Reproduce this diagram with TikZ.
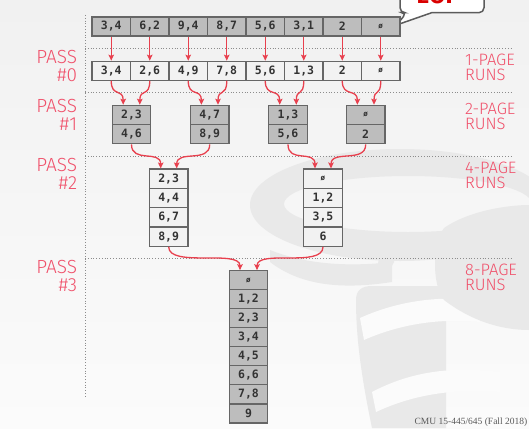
\documentclass[tikz,border=0pt]{standalone}
\usepackage{fontspec}
\setmainfont{Liberation Serif}
\newfontfamily\cellfont{DejaVu Sans Mono}
\newfontfamily\lblfont{Fira Sans Light}
\newfontfamily\eoffont{Fira Sans}
\usetikzlibrary{arrows.meta,calc}
\definecolor{bgtop}{HTML}{F1F1F1}
\definecolor{bgbot}{HTML}{FBFBFB}
\definecolor{wm}{HTML}{E9E9E9}
\definecolor{cellgray}{HTML}{BDBDBD}
\definecolor{celllight}{HTML}{F2F2F2}
\definecolor{cellline}{HTML}{666666}
\definecolor{celltext}{HTML}{333333}
\definecolor{arrowred}{HTML}{E8404E}
\definecolor{lblred}{HTML}{F0506A}
\definecolor{dotc}{HTML}{8C8C8C}
\newcommand\emptyval{{\fontsize{7.5}{8}\selectfont ø}}
\newcommand\mcurve[3]{\draw[arr] (#1) .. controls ($(#1)+(0,#3)$) and ($(#2)+(0,-#3)$) .. (#2);}
\begin{document}
\begin{tikzpicture}[x=1pt,y=-1pt,
  cell/.style={draw=cellline,line width=1.1pt,minimum width=38.5pt,minimum height=19pt,inner sep=0pt,text=celltext,font=\cellfont\bfseries\fontsize{11.5}{12}\selectfont},
  graycell/.style={cell,fill=cellgray},
  lightcell/.style={cell,fill=celllight},
  arr/.style={draw=arrowred,line width=1.3pt,-{Stealth[length=6pt,width=5.5pt,inset=1.2pt]}},
  sep/.style={draw=dotc,line width=0.8pt,dotted},
  passlbl/.style={anchor=north east,align=right,inner sep=0pt,text=lblred,font=\lblfont\fontsize{19}{17.6}\selectfont},
  runlbl/.style={anchor=north west,align=left,inner sep=0pt,text=lblred,font=\lblfont\fontsize{16.5}{15.3}\selectfont}]
\useasboundingbox (0,0) rectangle (529,428);
\clip (0,0) rectangle (529,428);
% background
\shade[top color=bgtop,bottom color=bgbot] (0,0) rectangle (529,428);
% watermark (database logo)
\fill[wm,even odd rule] (400,205) ellipse [x radius=150,y radius=56] (408,204) ellipse [x radius=124,y radius=28];
\fill[wm] (270,262) .. controls (300,285) and (340,290) .. (392,282) -- (392,262) .. controls (340,268) and (300,262) .. (270,250) -- cycle;
\fill[wm] (356,300) .. controls (356,290) and (362,286) .. (372,286) -- (446,286) -- (446,428) -- (372,428) .. controls (362,380) and (356,340) .. (356,300) -- cycle;
\fill[bgbot] (360,318) .. controls (400,300) and (440,296) .. (480,300) -- (480,322) .. controls (440,318) and (400,324) .. (364,340) -- cycle;
\fill[bgbot] (372,392) .. controls (410,372) and (450,366) .. (500,372) -- (500,392) .. controls (450,388) and (410,396) .. (376,412) -- cycle;
\fill[wm] (444,228) .. controls (470,210) and (510,205) .. (529,205) -- (529,330) .. controls (500,330) and (470,320) .. (444,300) .. controls (432,285) and (432,245) .. (444,228) -- cycle;
\fill[wm] (380,236) .. controls (392,238) and (396,250) .. (394,262) .. controls (390,272) and (382,272) .. (378,266) -- cycle;
% separators
\draw[sep] (85,15) -- (85,398);
\foreach \yy in {48,92,156,258} \draw[sep] (85,\yy) -- (513,\yy);
% callout
\draw[cellline!90!black,line width=1.5pt,fill=white,rounded corners=5pt]
  (400,-20) -- (400,12.7) -- (406.7,12.7) [sharp corners] -- (396.5,25) -- (431.7,12.7) [rounded corners=5pt] -- (484,12.7) -- (484,-20) -- cycle;
\node[anchor=base,inner sep=0pt,text=red!85!black,font=\eoffont\bfseries\fontsize{24}{24}\selectfont] (eof) at (437,3.5) {EOF};
% top row
\foreach \v [count=\i] in {{3,4},{6,2},{9,4},{8,7},{5,6},{3,1},{2},{\emptyval}}
  \node[graycell] (t\i) at ({92+38.5*(\i-0.5)},26.5) {\v};
% pass 0
\foreach \v [count=\i] in {{3,4},{2,6},{4,9},{7,8},{5,6},{1,3},{2},{\emptyval}}
  \node[lightcell] (p\i) at ({92+38.5*(\i-0.5)},70.7) {\v};
\foreach \i in {1,...,8} \draw[arr] (t\i.south) -- (p\i.north);
% pass 1
\foreach \xx/\va/\vb [count=\j] in {131.5/{2,3}/{4,6},209.7/{4,7}/{8,9},288/{1,3}/{5,6},365.7/{\emptyval}/{2}}{
  \node[graycell,minimum height=19.3pt] (q\j a) at (\xx,114.95) {\va};
  \node[graycell,minimum height=19.3pt] (q\j b) at (\xx,134.25) {\vb};
  \coordinate (q\j l) at ($(q\j a.north)+(-8.3,0)$);
  \coordinate (q\j r) at ($(q\j a.north)+(8.3,0)$);
}
\mcurve{p1.south}{q1l}{17}
\mcurve{p2.south}{q1r}{17}
\mcurve{p3.south}{q2l}{17}
\mcurve{p4.south}{q2r}{17}
\mcurve{p5.south}{q3l}{17}
\mcurve{p6.south}{q3r}{17}
\mcurve{p7.south}{q4l}{17}
\mcurve{p8.south}{q4r}{17}
% pass 2
\foreach \v [count=\k] in {{2,3},{4,4},{6,7},{8,9}}
  \node[lightcell,minimum height=19.33pt] (r1c\k) at (168.7,{169+19.33*(\k-0.5)}) {\v};
\foreach \v [count=\k] in {{\emptyval},{1,2},{3,5},{6}}
  \node[lightcell,minimum height=19.33pt] (r2c\k) at (323,{169+19.33*(\k-0.5)}) {\v};
\coordinate (r1l) at ($(r1c1.north)+(-8,0)$);
\coordinate (r1r) at ($(r1c1.north)+(8,0)$);
\coordinate (r2l) at ($(r2c1.north)+(-8,0)$);
\coordinate (r2r) at ($(r2c1.north)+(8,0)$);
\mcurve{q1b.south}{r1l}{19}
\mcurve{q2b.south}{r1r}{19}
\mcurve{q3b.south}{r2l}{19}
\mcurve{q4b.south}{r2r}{19}
% pass 3
\foreach \v [count=\k] in {{\emptyval},{1,2},{2,3},{3,4},{4,5},{6,6},{7,8},{9}}
  \node[graycell,minimum height=19.04pt] (s\k) at (248.5,{270.7+19.04*(\k-0.5)}) {\v};
\coordinate (sl) at ($(s1.north)+(-8.5,0)$);
\coordinate (sr) at ($(s1.north)+(8.5,0)$);
\mcurve{r1c4.south}{sl}{21}
\mcurve{r2c4.south}{sr}{21}
% pass labels
\foreach \n/\ya in {0/50,1/99.3,2/158.3,3/260}
  \node[passlbl] (pass\n) at (77.3,\ya) {PASS\\\#\n};
\foreach \n/\ya in {1/54,2/102.7,4/161.7,8/264}
  \node[runlbl] (run\n) at (465,\ya) {\n-PAGE\\RUNS};
% footer
\node[anchor=base east,inner sep=0pt,text=black!65,font=\fontsize{9.5}{10}\selectfont] (foot) at (527.5,424.5) {CMU 15-445/645 (Fall 2018)};
\end{tikzpicture}
\end{document}
